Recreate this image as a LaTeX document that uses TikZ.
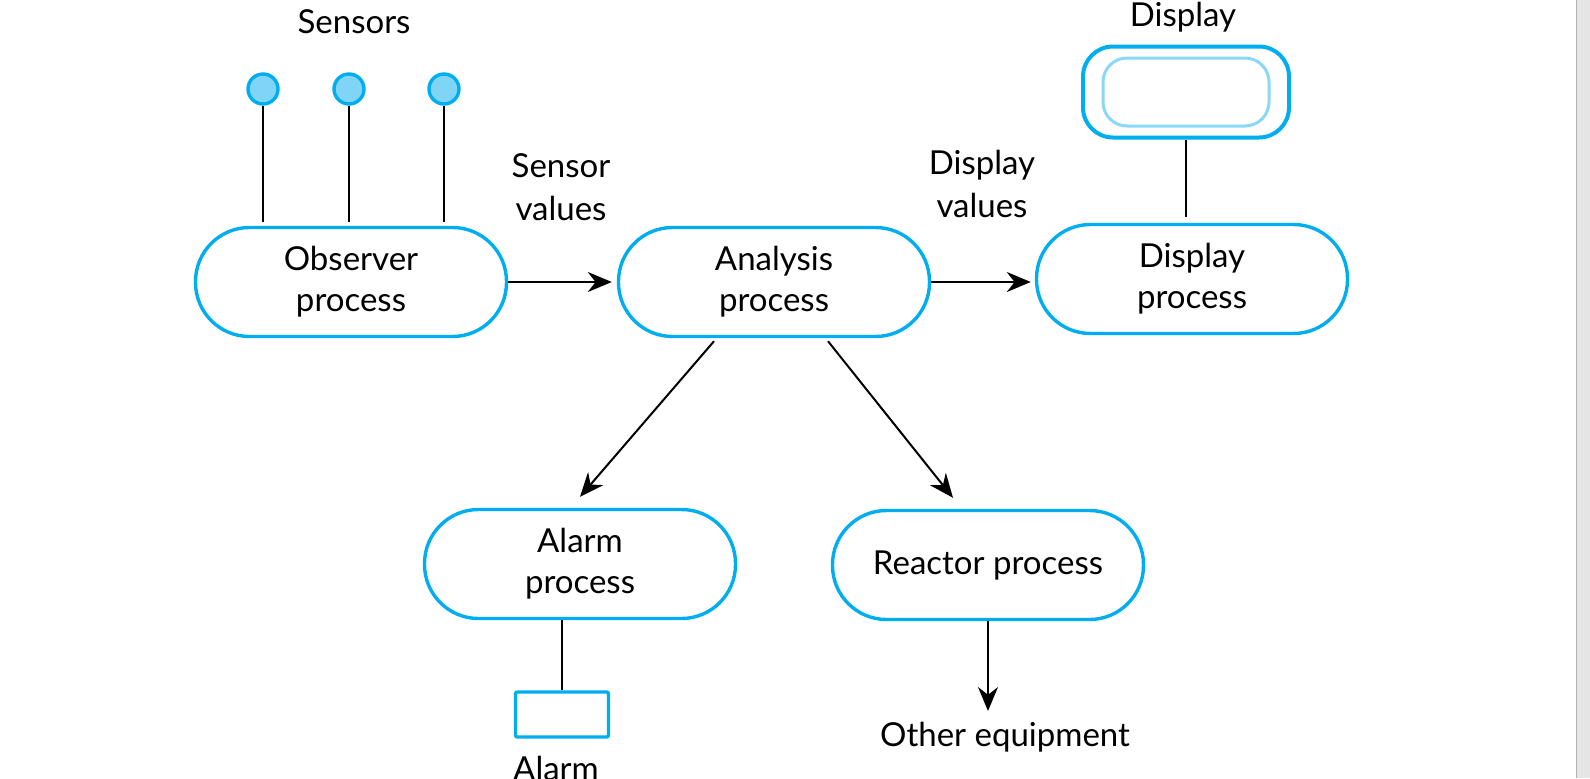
\documentclass[tikz,border=0pt]{standalone}
\usepackage{fontspec}
\setmainfont{Lato}
\usetikzlibrary{arrows.meta}
\definecolor{procblue}{RGB}{0,174,239}
\definecolor{sensorfill}{RGB}{128,212,246}
\definecolor{screenblue}{RGB}{138,216,248}

\begin{document}
\begin{tikzpicture}[x=0.5pt, y=-0.5pt,
  proc/.style={draw=procblue, line width=1.7pt, fill=white, rounded corners=27pt,
    minimum width=155.5pt, minimum height=54.5pt, align=center,
    font=\fontsize{16.5}{20.5}\selectfont},
  lbl/.style={align=center, font=\fontsize{16.5}{21.5}\selectfont},
  sensor/.style={circle, draw=procblue, fill=sensorfill, line width=1.7pt,
    minimum size=15pt, inner sep=0pt},
  link/.style={black, line width=1pt},
  flow/.style={black, line width=1pt, -{Stealth[length=12pt, width=10pt]}}]
  \def\pw{1590} \def\ph{778}
  \useasboundingbox (0,0) rectangle (\pw,\ph);

  % page edge on the right
  \fill[gray!20] (1577,0) rectangle (\pw,\ph);
  \draw[gray!60, line width=0.6pt] (1576.5,0) -- (1576.5,\ph);

  % processes
  \node[proc] (obs) at (351,282) {Observer\\process};
  \node[proc] (ana) at (774,282) {Analysis\\process};
  \node[proc] (dpro) at (1192,279) {Display\\process};
  \node[proc] (alarm) at (580,564) {Alarm\\process};
  \node[proc] (reac) at (988,565) {Reactor process};

  % sensors
  \node[lbl] (sens) at (354,22) {Sensors};
  \foreach \i/\sx in {1/263,2/349,3/444} {
    \node[sensor] (s\i) at (\sx,89) {};
    \draw[link, shorten >=2pt] (s\i) -- (s\i |- obs.north);
  }

  % display: screen in a frame
  \node[lbl] (dlab) at (1183,17) {Display};
  \node[draw=procblue, line width=2pt, rounded corners=15pt, fill=white,
    minimum width=103pt, minimum height=45.5pt] (disp) at (1186,92) {};
  \node[draw=screenblue, line width=1.5pt, rounded corners=12pt,
    minimum width=83pt, minimum height=34pt] (scr) at (disp) {};
  \draw[link, shorten >=3pt] (disp.south) -- (disp.south |- dpro.north);

  % data flows
  \node[lbl] (sval) at (561,187) {Sensor\\values};
  \node[lbl] (dval) at (982,184) {Display\\values};
  \draw[flow] (obs.east) -- ([xshift=-2.5pt]ana.west);
  \draw[flow] (ana.east) -- ([xshift=-2pt]ana.east -| dpro.west);
  \draw[flow] ([xshift=-30pt,yshift=-1.5pt]ana.south) -- ([yshift=5.5pt]alarm.north);
  \draw[flow] ([xshift=27pt,yshift=-1.5pt]ana.south) -- ([xshift=-17.5pt,yshift=5.5pt]reac.north);

  % alarm
  \node[draw=procblue, line width=1.7pt, rounded corners=1pt,
    minimum width=46.5pt, minimum height=22.5pt] (abox) at (562,714.5) {};
  \draw[link] (abox.north) -- (abox.north |- alarm.south);
  \node[lbl] (alab) at (556,768) {Alarm};

  % other equipment
  \node[lbl] (oth) at (1005,737) {Other equipment};
  \coordinate (oeq) at (986,711);
  \draw[flow] (reac.south) -- (reac.south |- oeq);
\end{tikzpicture}
\end{document}
